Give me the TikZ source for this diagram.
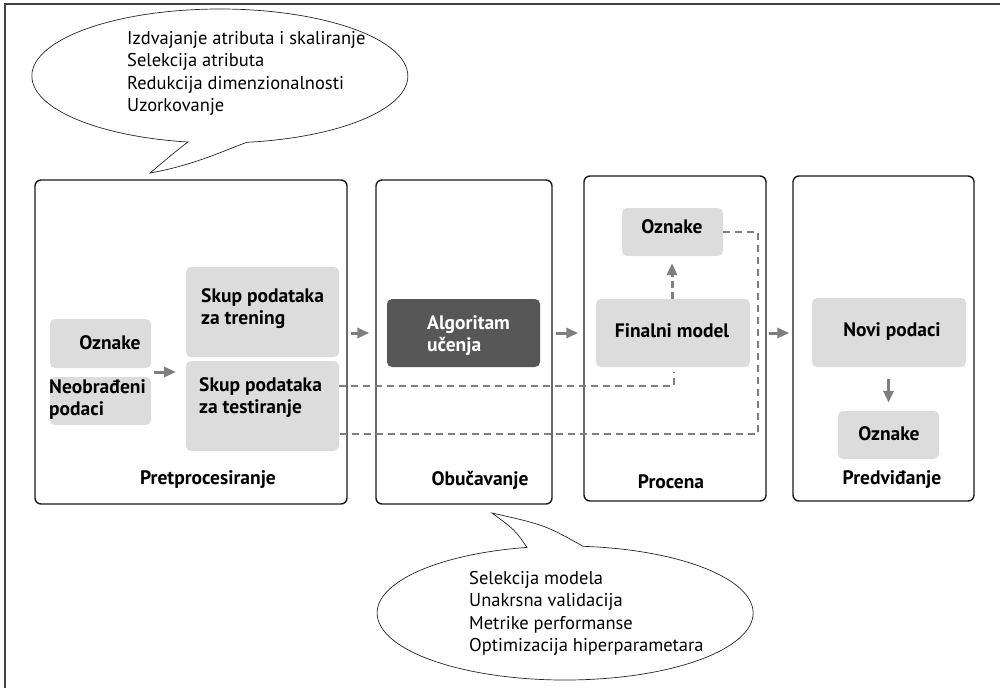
\documentclass[tikz,border=0pt]{standalone}
\usepackage{fontspec}
\setmainfont{PT Sans}
\usetikzlibrary{arrows.meta,calc}
\definecolor{lgray}{HTML}{DCDCDC}
\definecolor{dgray}{HTML}{575757}
\definecolor{agray}{HTML}{7F7F7F}
\begin{document}
\begin{tikzpicture}[x=1pt,y=-1pt,
  stage/.style={draw=black!90, line width=1.4pt, rounded corners=6pt, minimum width=#1},
  lbox/.style={fill=lgray, rounded corners=5pt, inner sep=0pt},
  dbox/.style={fill=dgray, rounded corners=5pt, inner sep=0pt},
  lbl/.style={font=\fontsize{19.5}{22}\selectfont\bfseries, align=left, inner sep=0pt},
  ctxt/.style={font=\fontsize{18.5}{22.3}\selectfont, align=left, inner sep=0pt},
  arr/.style={draw=agray, line width=3pt, -{Triangle[length=12pt,width=10pt]}},
  dsh/.style={draw=agray, line width=1.6pt, dash pattern=on 7pt off 5pt},
  bubble/.style={draw=black!85, line width=0.7pt, fill=white}]
\useasboundingbox (0,0) rectangle (1000,688);
% outer border (top and left)
\draw[black!75, line width=1.5pt] (5,688) -- (5,4) -- (1000,4);

% top callout
\draw[bubble] (247,142.3) arc[start angle=81.7, end angle=-260.2, x radius=188, y radius=67]
  .. controls (175,152) .. (150,173) .. controls (195,165) and (225,150) .. (247,142.3) -- cycle;
\node[ctxt, anchor=west] (c1) at (127,73.5) {Izdvajanje atributa i skaliranje\\Selekcija atributa\\Redukcija dimenzionalnosti\\Uzorkovanje};

% bottom callout
\draw[bubble] (527,547.4) arc[start angle=-101.7, end angle=-444.5, x radius=188, y radius=67]
  .. controls (545,525) .. (492,513) .. controls (515,530) .. (527,547.4) -- cycle;
\node[ctxt, anchor=west] (c2) at (469,613.5) {Selekcija modela\\Unakrsna validacija\\Metrike performanse\\Optimizacija hiperparametara};

% stages
\node[stage=312pt, minimum height=324pt] (s1) at (191,342) {};
\node[stage=176pt, minimum height=324pt] (s2) at (464,342) {};
\node[stage=182pt, minimum height=325pt] (s3) at (675,338.5) {};
\node[stage=181pt, minimum height=325pt] (s4) at (883.5,338.5) {};

\node[lbl] (l1) at (208,480) {Pretprocesiranje};
\node[lbl] (l2) at (480,480) {Obučavanje};
\node[lbl] (l3) at (671,482) {Procena};
\node[lbl] (l4) at (892,480) {Predviđanje};

% inner boxes
\node[lbox, minimum width=101pt, minimum height=49pt] (oz1) at (100.5,343.5) {};
\node[lbox, minimum width=101pt, minimum height=48pt] (neo) at (100.5,401) {};
\node[lbox, minimum width=153pt, minimum height=90pt] (trn) at (262.5,312) {};
\node[lbox, minimum width=153pt, minimum height=90pt] (tst) at (262.5,406) {};
\node[dbox, minimum width=153pt, minimum height=68pt] (alg) at (463.5,333) {};
\node[lbox, minimum width=154pt, minimum height=68pt] (fin) at (673,333) {};
\node[lbox, minimum width=101pt, minimum height=48pt] (oz3) at (672.5,232) {};
\node[lbox, minimum width=154pt, minimum height=69pt] (nov) at (889,332.5) {};
\node[lbox, minimum width=101pt, minimum height=48pt] (oz4) at (888.5,435) {};

\node[lbl] (t1) at (110,343) {Oznake};
\node[lbl, anchor=west] (t2) at (49,400) {Neobrađeni\\podaci};
\node[lbl, anchor=west] (t3) at (201,309) {Skup podataka\\za trening};
\node[lbl, anchor=west] (t4) at (199,398) {Skup podataka\\za testiranje};
\node[lbl, anchor=west, text=white] (t5) at (427,335.5) {Algoritam\\učenja};
\node[lbl] (t6) at (672,331) {Finalni model};
\node[lbl] (t7) at (672,227) {Oznake};
\node[lbl] (t8) at (892,332) {Novi podaci};
\node[lbl] (t9) at (889,434) {Oznake};

% arrows
\coordinate (a1s) at (154,372);
\coordinate (a1e) at (176,372);
\draw[arr] (a1s) -- (a1e);
\draw[arr, shorten <=3pt, shorten >=6pt] (s1.east |- alg.center) -- (s2.west |- alg.center);
\draw[arr, shorten <=3pt, shorten >=5pt] (s2.east |- alg.center) -- (s3.west |- alg.center);
\draw[arr, shorten <=2pt, shorten >=3pt] (s3.east |- alg.center) -- (s4.west |- alg.center);
\draw[arr, dash pattern=on 7pt off 4pt, shorten >=7pt] (fin.north -| t7.center) -- (oz3.south -| t7.center);
\draw[arr, shorten <=12pt, shorten >=8pt] (nov.south -| oz4.center) -- (oz4.north);

% dashed connectors
\coordinate (d1a) at (674,386);
\coordinate (d1b) at (674,372);
\draw[dsh] (tst.east |- d1a) -- (d1a) -- (d1b);
\coordinate (d2a) at (758,232);
\coordinate (d2b) at (758,434);
\draw[dsh] (oz3.east |- d2a) -- (d2a) -- (d2b) -- (tst.east |- d2b);
\end{tikzpicture}
\end{document}
